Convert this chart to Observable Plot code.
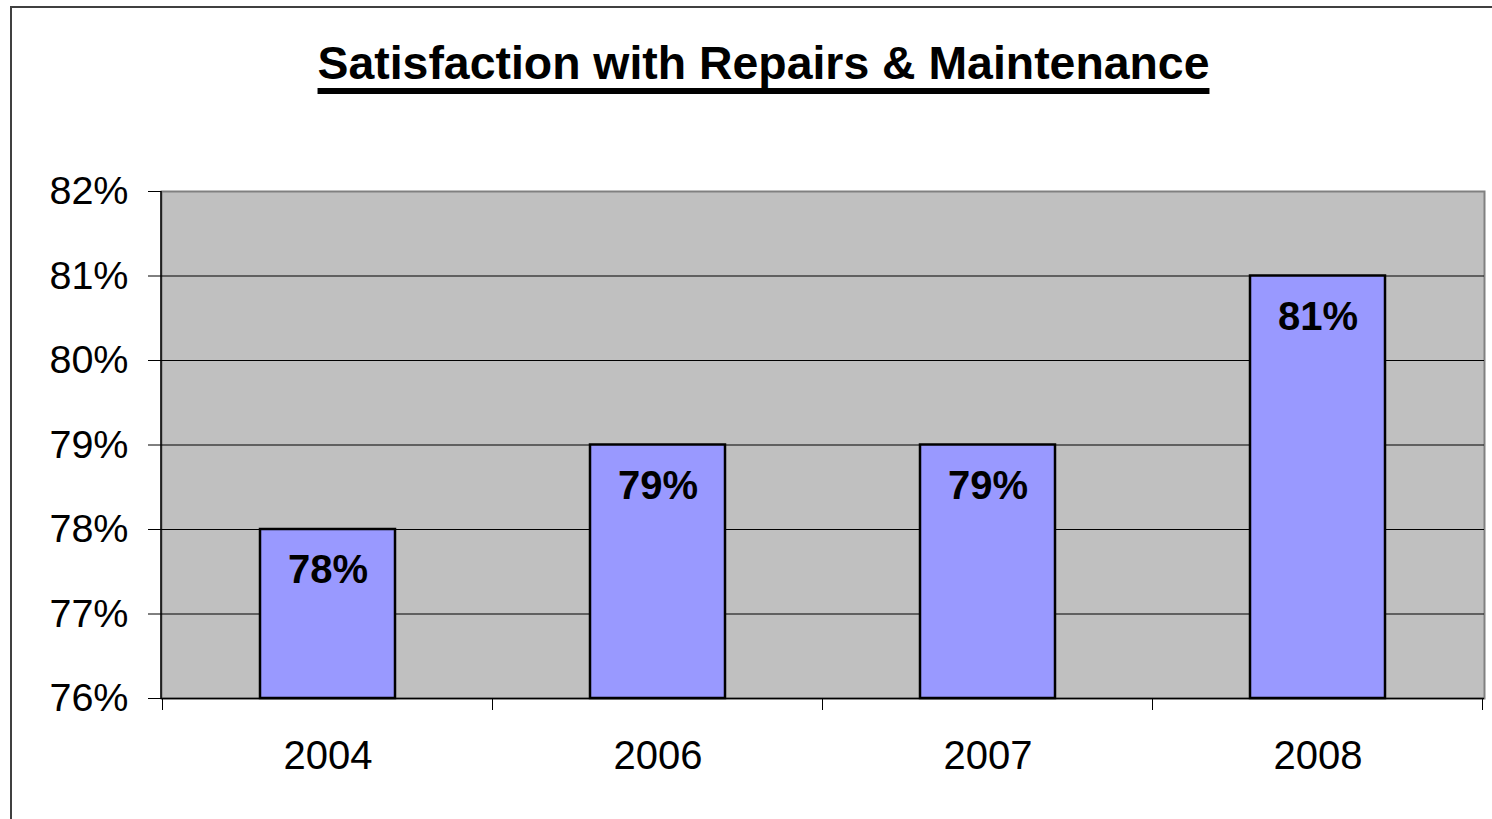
<!DOCTYPE html>
<html><head><meta charset="utf-8">
<script src="https://cdn.jsdelivr.net/npm/d3@7"></script>
<script src="https://cdn.jsdelivr.net/npm/@observablehq/plot@0.6"></script>
<style>
body{margin:0;background:#fff;overflow:hidden;font-family:"Liberation Sans",Arial,sans-serif}
#wrap{position:relative;width:1492px;height:819px;overflow:hidden;background:#fff}
#frame{position:absolute;left:10px;top:6px;width:1600px;height:900px;border:2px solid #404040;box-sizing:border-box}
#title{position:absolute;left:35px;width:1457px;top:40px;text-align:center;font-weight:bold;font-size:46.4px;line-height:46px;color:#000;text-decoration:underline;text-decoration-thickness:6px;text-underline-offset:9px;text-decoration-skip-ink:none;white-space:nowrap}
#chart{position:absolute;left:0;top:0}
</style>
</head><body>
<div id="wrap"><div id="frame"></div><div id="title">Satisfaction with Repairs &amp; Maintenance</div><div id="chart"></div></div>
<script>
const years = ["2004", "2006", "2007", "2008"];
const values = [78, 79, 79, 81];
const yTicks = [76, 77, 78, 79, 80, 81, 82];
const gridValues = [77, 78, 79, 80, 81];
const data = years.map((year, i) => ({year, value: values[i]}));
const padInner = 0.592;

const boundaryTicks = (index, scales, vals, dims) => {
  const x = scales.x;
  const bw = typeof x.bandwidth === "function" ? x.bandwidth() : x.bandwidth;
  const step = typeof x.step === "function" ? x.step() : bw / (1 - padInner);
  const off = (step - bw) / 2;
  const xs = years.map(d => x(d) - off);
  xs.push(x(years[years.length - 1]) + bw + off);
  const y0 = dims.height - dims.marginBottom;
  const g = d3.create("svg:g");
  for (const px of xs) {
    g.append("line").attr("x1", px).attr("x2", px).attr("y1", y0).attr("y2", y0 + 12)
      .attr("stroke", "#000").attr("stroke-width", 1);
  }
  g.append("line").attr("x1", dims.marginLeft).attr("x2", dims.marginLeft)
    .attr("y1", dims.marginTop).attr("y2", y0).attr("stroke", "#000").attr("stroke-width", 1.5);
  return g.node();
};

const chart = Plot.plot({
  width: 1492,
  height: 819,
  marginTop: 191,
  marginBottom: 121,
  marginLeft: 161,
  marginRight: 8,
  style: {fontFamily: '"Liberation Sans", Arial, sans-serif', background: "transparent", color: "#000"},
  x: {domain: years, paddingInner: padInner, paddingOuter: padInner / 2, label: null},
  y: {domain: [76, 82], label: null},
  marks: [
    Plot.frame({fill: "#c0c0c0", stroke: "#808080", strokeWidth: 2}),
    Plot.ruleY(gridValues, {stroke: "#000", strokeWidth: 1}),
    Plot.barY(data, {x: "year", y1: 76, y2: "value", fill: "#9999ff", stroke: "#000", strokeWidth: 2.5}),
    Plot.ruleY([76], {stroke: "#000", strokeWidth: 1.5}),
    Plot.text(data, {x: "year", y: "value", text: d => d.value + "%", dy: 41, fontSize: 40, fontWeight: "bold", fill: "#000"}),
    Plot.axisY({ticks: yTicks, tickFormat: d => d + "%", tickSize: 13, tickPadding: 20, fontSize: 39.5, stroke: "#000"}),
    Plot.axisX({tickSize: 0, tickPadding: 42, fontSize: 40}),
    boundaryTicks
  ]
});
document.getElementById("chart").appendChild(chart);
</script>
</body></html>
